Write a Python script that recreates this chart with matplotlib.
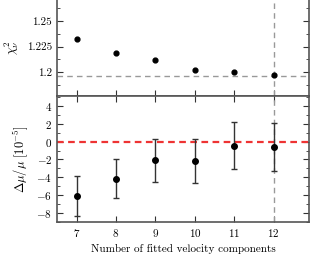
import numpy as np
import matplotlib
matplotlib.use("Agg")
import matplotlib.pyplot as plt
from matplotlib.ticker import MultipleLocator

plt.rcParams["font.family"] = "serif"
plt.rcParams["font.serif"] = ["cmr10", "DejaVu Serif"]
plt.rcParams["mathtext.fontset"] = "cm"
plt.rcParams["axes.formatter.use_mathtext"] = True
plt.rcParams["font.size"] = 8

n_comp = [7, 8, 9, 10, 11, 12]
chi2 = [1.2325, 1.2185, 1.2115, 1.2025, 1.2005, 1.1972]
chi2_ref = 1.1965
dmu = [-6.1, -4.15, -2.07, -2.2, -0.45, -0.63]
dmu_err = [2.2, 2.2, 2.4, 2.45, 2.6, 2.7]
best = 12

spine_col = "#555555"

fig = plt.figure(figsize=(3.11, 2.59), dpi=100)
ax1 = fig.add_axes([0.183, 0.629, 0.811, 0.371])
ax2 = fig.add_axes([0.183, 0.143, 0.811, 0.486])

for ax in (ax1, ax2):
    for s in ax.spines.values():
        s.set_color(spine_col)
        s.set_linewidth(1.2)
    ax.tick_params(which="both", direction="in", top=True, right=True,
                   color="#333333", labelsize=8)
    ax.tick_params(which="major", length=4)
    ax.tick_params(which="minor", length=2)
    ax.set_xlim(6.5, 12.9)
    ax.set_xticks(n_comp)
    ax.axvline(best, color="#999999", ls=(0, (4, 3)), lw=1)

ax1.spines["top"].set_visible(False)
ax1.tick_params(labelbottom=False, top=False)
ax1.scatter(n_comp, chi2, s=12, color="black", zorder=3)
ax1.axhline(chi2_ref, color="#999999", ls=(0, (4, 3)), lw=1)
ax1.set_ylim(1.1765, 1.2705)
ax1.set_yticks([1.2, 1.225, 1.25])
ax1.set_yticklabels(["1.2", "1.225", "1.25"])
ax1.yaxis.set_minor_locator(MultipleLocator(0.0125))
ax1.set_ylabel(r"$\chi^2_\nu$", fontsize=9)

ax2.axhline(0, color="#ee3333", ls=(0, (3, 2)), lw=1.6)
ax2.errorbar(n_comp, dmu, yerr=dmu_err, fmt="o", color="black", ms=4,
             ecolor="#333333", elinewidth=1, capsize=2, capthick=1, zorder=3)
ax2.set_ylim(-9, 5.1)
ax2.yaxis.set_major_locator(MultipleLocator(2))
ax2.yaxis.set_minor_locator(MultipleLocator(1))
ax2.set_ylabel(r"$\Delta\mu/\mu\ [10^{-5}]$", fontsize=9)
ax2.set_xlabel("Number of fitted velocity components", fontsize=8)

fig.savefig("out.png", dpi=100)
